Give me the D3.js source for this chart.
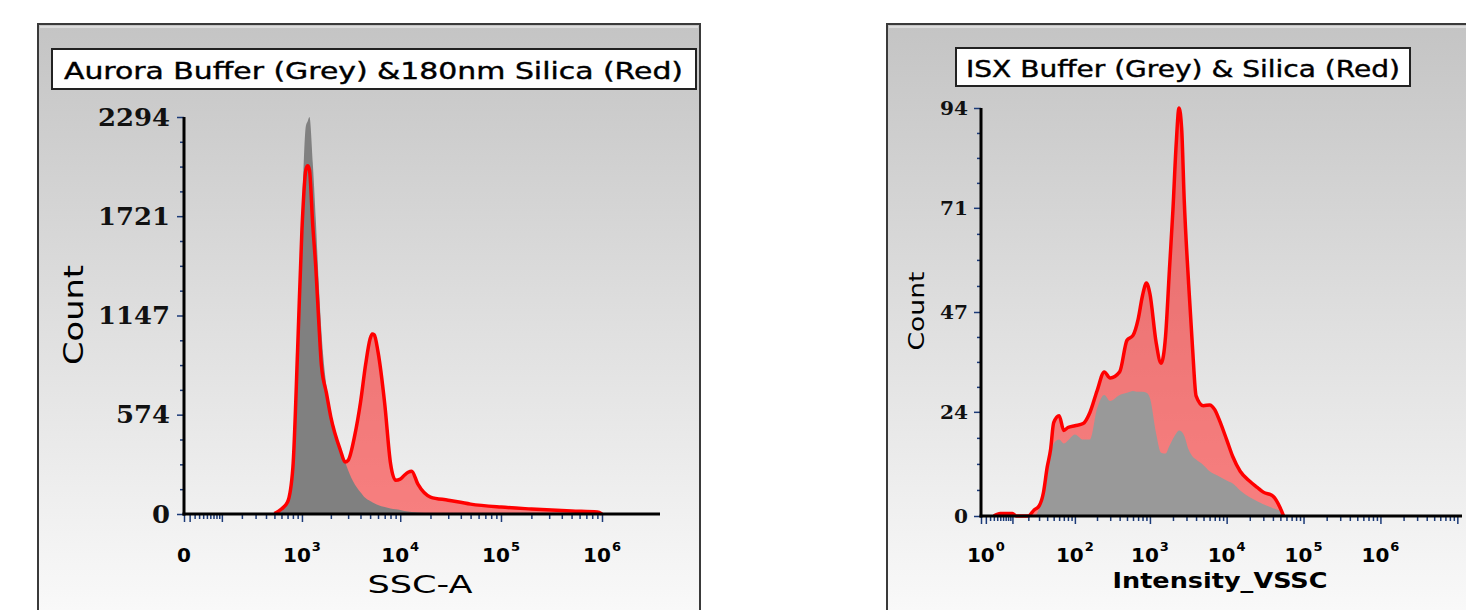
<!DOCTYPE html>
<html>
<head>
<meta charset="utf-8">
<script src="https://cdn.jsdelivr.net/npm/d3@7"></script>
<style>
  body { margin: 0; background: #ffffff; }
</style>
</head>
<body>
<script>
var width = 1466;
var height = 610;

// left plot : Aurora, SSC-A channel vs count
var sscValues = [500, 600, 700, 800, 900, 1000, 1100, 1150, 1200, 1300, 1400, 1500, 1600, 1800, 2000,
                 2500, 2800, 3000, 3500, 4000, 4500, 5000, 5250, 5500, 6000, 7000, 8000, 9000, 10000,
                 11000, 12000, 13000, 15000, 20000, 30000, 50000, 100000, 200000, 500000, 900000, 1000000];
var auroraBuffer = [3, 23, 75, 241, 839, 1730, 2242, 2270, 2294, 2029, 1696, 1334, 1052, 742, 586,
                    385, 300, 253, 172, 126, 92, 75, 68, 62, 52, 40, 32, 27, 23,
                    18, 14, 12, 9, 3, 0, 0, 0, 0, 0, 0, 0];
var auroraSilica = [2, 29, 69, 270, 954, 1644, 1989, 2012, 1989, 1667, 1420, 1115, 857, 700, 560,
                    370, 300, 310, 454, 644, 862, 1012, 1040, 1035, 937, 638, 293, 195, 201,
                    224, 241, 247, 172, 98, 80, 57, 40, 29, 17, 11, 0];
var auroraYTicks = [0, 574, 1147, 1721, 2294];
var auroraXLabels = [0, 1e3, 1e4, 1e5, 1e6];

// right plot : ISX, Intensity_VSSC vs count
var vsscValues = [3, 5, 8, 10, 12, 15, 20, 25, 30, 35, 40, 45, 50, 60, 70, 80, 100, 130, 160, 200,
                  250, 300, 400, 500, 600, 700, 800, 900, 1000, 1200, 1400, 1600, 1800, 2000, 2200,
                  2400, 2600, 2800, 3200, 3600, 4000, 5000, 6000, 7000, 8000, 10000, 12000, 15000,
                  20000, 25000, 30000, 40000, 50000, 55000];
var isxBuffer = [0, 0, 0, 0, 0, 0, 0, 0, 1.6, 4.8, 8.7, 13.5, 16.7, 17.6, 16.7, 17.4, 18.8, 17.6, 17.6, 24.7,
                 27.9, 26.5, 27.9, 28.4, 28.8, 28.6, 28.6, 28.4, 27.2, 19.2, 14.6, 14.4, 16.2, 17.8, 19,
                 19.7, 19.4, 18.5, 15.3, 13.7, 13, 11.7, 10.3, 9.6, 9.1, 8.2, 7.5, 5.9,
                 4.3, 3.4, 2.7, 1.8, 1.1, 0];
var isxSilica = [0, 0.6, 0.6, 0.6, 0, 0, 0, 1.4, 2.3, 5.3, 11.2, 15.3, 21.5, 23.1, 19.7, 20.4, 20.8, 21.3, 23.8, 28.8,
                 33.2, 31.8, 33.2, 40.5, 41.6, 45.3, 50.8, 53.7, 51.2, 40.2, 35.2, 41.4, 56.9, 70.7, 85.5,
                 94, 89, 73, 53.5, 38.7, 27.7, 25.4, 25.6, 24.5, 22.2, 17.6, 13.7, 10.3,
                 8, 6.6, 5.5, 4.6, 1.8, 0];
var isxYTicks = [0, 24, 47, 71, 94];
var isxXLabels = [1, 1e2, 1e3, 1e4, 1e5, 1e6];

var svg = d3.select('body').append('svg')
        .attr('width', width)
        .attr('height', height);

var grad = svg.append('defs').append('linearGradient')
        .attr('id', 'bg')
        .attr('x1', 0).attr('y1', 0).attr('x2', 0).attr('y2', 1);
grad.append('stop').attr('offset', '0%').attr('stop-color', '#c4c4c4');
grad.append('stop').attr('offset', '100%').attr('stop-color', '#fcfcfc');

var panels = [
    {
        box: [38, 24, 662, 620],
        title: 'Aurora Buffer (Grey) &180nm Silica (Red)',
        titleBox: [52, 49, 644, 40], titleX: 373.5, titleY: 79, titleLen: 619,
        x0: 184, x1: 660, y0: 514, y1: 117, c: 73, xMax: 3.75e6,
        xs: sscValues, grey: auroraBuffer, red: auroraSilica, greyFill: '#808080',
        yTicks: auroraYTicks, xLabels: auroraXLabels,
        minorE: [1, 5], majors: [0, 10, 100, 1e3, 1e4, 1e5, 1e6],
        yLabelX: 83, yLabelY: 315, yLabelSize: 27, yLabelLen: 100,
        xLabel: 'SSC-A', xLabelX: 420, xLabelY: 593, xLabelSize: 25, xLabelLen: 105, xLabelWeight: 'normal',
        yTickSize: 24, digitW: 18, yTickRight: 170
    },
    {
        box: [887, 24, 600, 620],
        title: 'ISX Buffer (Grey) & Silica (Red)',
        titleBox: [956, 48, 454, 38], titleX: 1183, titleY: 77, titleLen: 434,
        x0: 981, x1: 1462, y0: 516, y1: 108, c: 6.4, xMax: 1.15e7,
        xs: vsscValues, grey: isxBuffer, red: isxSilica, greyFill: '#999999',
        yTicks: isxYTicks, xLabels: isxXLabels,
        minorE: [0, 6], majors: [0, 1, 10, 100, 1e3, 1e4, 1e5, 1e6, 1e7],
        yLabelX: 924, yLabelY: 311, yLabelSize: 21, yLabelLen: 79,
        xLabel: 'Intensity_VSSC', xLabelX: 1220, xLabelY: 588, xLabelSize: 22, xLabelLen: 215, xLabelWeight: 'bold',
        yTickSize: 19, digitW: 14, yTickRight: 968
    }
];

var tickStyle = function (sel) {
    sel.select('.domain').remove();
    sel.selectAll('.tick line').attr('stroke', '#1b3a78').attr('stroke-width', 1.5);
};

panels.forEach(function (p) {
    var g = svg.append('g');

    g.append('rect')
        .attr('x', p.box[0]).attr('y', p.box[1])
        .attr('width', p.box[2]).attr('height', p.box[3])
        .attr('fill', 'url(#bg)')
        .attr('stroke', '#3a3a3a')
        .attr('stroke-width', 2);
    g.append('line')
        .attr('x1', p.box[0] + 2).attr('x2', p.box[0] + p.box[2] - 2)
        .attr('y1', p.box[1] + 3).attr('y2', p.box[1] + 3)
        .attr('stroke', '#f4f4f4').attr('stroke-width', 1);

    g.append('rect')
        .attr('x', p.titleBox[0]).attr('y', p.titleBox[1])
        .attr('width', p.titleBox[2]).attr('height', p.titleBox[3])
        .attr('fill', '#ffffff')
        .attr('stroke', '#222222')
        .attr('stroke-width', 2);
    g.append('text')
        .attr('x', p.titleX).attr('y', p.titleY)
        .attr('text-anchor', 'middle')
        .attr('font-family', 'DejaVu Sans, Verdana, sans-serif')
        .attr('font-size', 23)
        .attr('textLength', p.titleLen)
        .attr('lengthAdjust', 'spacingAndGlyphs')
        .attr('fill', '#000')
        .attr('stroke', '#000')
        .attr('stroke-width', 0.4)
        .text(p.title);

    var x = d3.scaleSymlog().constant(p.c).domain([0, p.xMax]).range([p.x0, p.x1]);
    var y = d3.scaleLinear().domain([0, p.yTicks[p.yTicks.length - 1]]).range([p.y0, p.y1]);

    var greyData = p.xs.map(function (v, i) { return { v: v, n: p.grey[i] }; });
    var redData = p.xs.map(function (v, i) { return { v: v, n: p.red[i] }; });

    var area = d3.area()
        .x(function (d) { return x(d.v); })
        .y0(p.y0)
        .y1(function (d) { return y(d.n); })
        .curve(d3.curveMonotoneX);
    var line = d3.line()
        .x(function (d) { return x(d.v); })
        .y(function (d) { return y(d.n); })
        .curve(d3.curveMonotoneX);

    g.append('path').attr('d', area(redData)).attr('fill', 'rgba(255,0,0,0.47)');
    g.append('path').attr('d', area(greyData)).attr('fill', p.greyFill);
    g.append('path').attr('d', line(redData))
        .attr('fill', 'none').attr('stroke', '#ff0000').attr('stroke-width', 3.5)
        .attr('stroke-linejoin', 'round');

    // x ticks
    var minor = [];
    for (var e = p.minorE[0]; e <= p.minorE[1]; e++) {
        for (var m = 2; m <= 9; m++) {
            var t = m * Math.pow(10, e);
            if (t < p.xMax) minor.push(t);
        }
    }
    g.append('g').attr('transform', 'translate(0,' + p.y0 + ')')
        .call(d3.axisBottom(x).tickValues(minor).tickSize(5).tickFormat(''))
        .call(tickStyle);
    g.append('g').attr('transform', 'translate(0,' + p.y0 + ')')
        .call(d3.axisBottom(x).tickValues(p.majors).tickSize(8).tickFormat(''))
        .call(tickStyle);

    // y ticks
    var yMinor = [];
    for (var i = 0; i < p.yTicks.length - 1; i++) {
        for (var j = 1; j < 4; j++) {
            yMinor.push(p.yTicks[i] + (p.yTicks[i + 1] - p.yTicks[i]) * j / 4);
        }
    }
    g.append('g').attr('transform', 'translate(' + p.x0 + ',0)')
        .call(d3.axisLeft(y).tickValues(yMinor).tickSize(4).tickFormat(''))
        .call(tickStyle);
    g.append('g').attr('transform', 'translate(' + p.x0 + ',0)')
        .call(d3.axisLeft(y).tickValues(p.yTicks).tickSize(7).tickFormat(''))
        .call(tickStyle);

    // axis lines
    g.append('line')
        .attr('x1', p.x0).attr('x2', p.x0).attr('y1', p.y1).attr('y2', p.y0 + 1.5)
        .attr('stroke', '#000').attr('stroke-width', 3);
    g.append('line')
        .attr('x1', p.x0 - 1.5).attr('x2', p.x1).attr('y1', p.y0).attr('y2', p.y0)
        .attr('stroke', '#000').attr('stroke-width', 3);

    // y tick labels
    g.selectAll('text.ylab')
        .data(p.yTicks)
        .enter().append('text')
            .attr('class', 'ylab')
            .attr('x', p.yTickRight)
            .attr('y', function (d) { return y(d); })
            .attr('dy', '0.36em')
            .attr('text-anchor', 'end')
            .attr('font-family', 'DejaVu Serif, serif')
            .attr('font-weight', 'bold')
            .attr('font-size', p.yTickSize)
            .attr('textLength', function (d) { return String(d).length * p.digitW; })
            .attr('lengthAdjust', 'spacingAndGlyphs')
            .attr('fill', '#111')
            .text(function (d) { return d; });

    // x tick labels
    var xl = g.selectAll('text.xlab')
        .data(p.xLabels)
        .enter().append('text')
            .attr('class', 'xlab')
            .attr('x', function (d) { return x(d); })
            .attr('y', 562)
            .attr('text-anchor', 'middle')
            .attr('font-family', 'DejaVu Sans, Verdana, sans-serif')
            .attr('font-weight', 'bold')
            .attr('font-size', 20)
            .attr('fill', '#000');
    xl.each(function (d) {
        var t = d3.select(this);
        if (d === 0) { t.text('0'); return; }
        t.append('tspan').text('10');
        t.append('tspan')
            .attr('dy', -11)
            .attr('dx', 1)
            .attr('font-size', 13)
            .text(Math.round(Math.log10(d)));
    });

    // axis titles
    g.append('text')
        .attr('transform', 'translate(' + p.yLabelX + ',' + p.yLabelY + ') rotate(-90)')
        .attr('text-anchor', 'middle')
        .attr('font-family', 'DejaVu Sans, Verdana, sans-serif')
        .attr('font-size', p.yLabelSize)
        .attr('textLength', p.yLabelLen)
        .attr('lengthAdjust', 'spacingAndGlyphs')
        .attr('fill', '#000')
        .text('Count');
    g.append('text')
        .attr('x', p.xLabelX).attr('y', p.xLabelY)
        .attr('text-anchor', 'middle')
        .attr('font-family', 'DejaVu Sans, Verdana, sans-serif')
        .attr('font-weight', p.xLabelWeight)
        .attr('font-size', p.xLabelSize)
        .attr('textLength', p.xLabelLen)
        .attr('lengthAdjust', 'spacingAndGlyphs')
        .attr('fill', '#000')
        .text(p.xLabel);
});
</script>
</body>
</html>
